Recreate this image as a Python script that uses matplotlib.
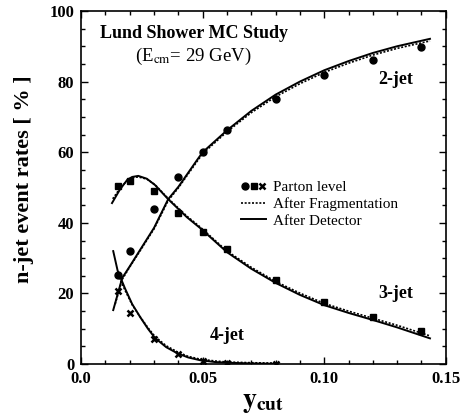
import matplotlib
matplotlib.use('Agg')
import matplotlib.pyplot as plt
from matplotlib.legend_handler import HandlerTuple
from matplotlib.ticker import MultipleLocator
import numpy as np

plt.rcParams['font.family'] = 'Liberation Serif'
plt.rcParams['mathtext.fontset'] = 'stix'

# parton level points
ycut_pts = [0.015, 0.02, 0.03, 0.04, 0.05, 0.06, 0.08, 0.10, 0.12, 0.14]
jet2_pts = [25.2, 32.0, 43.9, 53.0, 60.1, 66.3, 75.1, 81.9, 86.1, 89.8]
jet3_pts = [50.4, 51.8, 49.0, 42.8, 37.4, 32.6, 23.8, 17.6, 13.3, 9.3]
ycut4_pts = [0.015, 0.02, 0.03, 0.04, 0.05, 0.06, 0.08]
jet4_pts = [20.7, 14.4, 7.1, 2.8, 0.8, 0.3, 0.0]

# after detector (solid)
ycut_det2 = [0.0132, 0.0169, 0.02, 0.03, 0.0358, 0.04, 0.0477, 0.05, 0.06, 0.07, 0.08, 0.09, 0.10, 0.11, 0.12, 0.13, 0.1435]
jet2_det = [15.3, 24.4, 27.7, 38.6, 46.7, 50.2, 57.8, 60.0, 66.2, 71.7, 76.3, 80.0, 83.2, 85.8, 88.1, 90.0, 92.1]
ycut_det3 = [0.0127, 0.016, 0.019, 0.021, 0.0235, 0.027, 0.0304, 0.0358, 0.0435, 0.049, 0.06, 0.07, 0.08, 0.09, 0.10, 0.11, 0.12, 0.13, 0.1435]
jet3_det = [45.6, 49.5, 52.2, 53.0, 53.3, 52.5, 50.7, 46.7, 41.6, 38.5, 31.7, 27.0, 23.0, 19.6, 16.7, 14.5, 12.5, 10.4, 7.3]
ycut_det4 = [0.0132, 0.015, 0.018, 0.021, 0.0243, 0.0275, 0.0304, 0.035, 0.0395, 0.044, 0.049, 0.055, 0.06, 0.07, 0.08]
jet4_det = [32.0, 26.5, 21.5, 17.0, 13.3, 10.0, 7.4, 4.8, 3.1, 1.9, 1.1, 0.6, 0.4, 0.2, 0.1]

# after fragmentation (dotted)
ycut_frag2 = [0.014, 0.0169, 0.02, 0.03, 0.0358, 0.04, 0.0477, 0.05, 0.06, 0.07, 0.08, 0.09, 0.10, 0.11, 0.12, 0.13, 0.1435]
jet2_frag = [17.0, 24.0, 27.5, 38.3, 46.3, 49.9, 57.4, 59.6, 65.8, 71.2, 75.7, 79.4, 82.6, 85.2, 87.5, 89.4, 91.5]
ycut_frag3 = [0.013, 0.016, 0.019, 0.021, 0.0235, 0.027, 0.0304, 0.0358, 0.0435, 0.049, 0.06, 0.07, 0.08, 0.09, 0.10, 0.11, 0.12, 0.13, 0.1435]
jet3_frag = [46.8, 49.8, 52.0, 52.8, 53.0, 52.4, 50.8, 46.9, 41.9, 38.8, 32.0, 27.4, 23.4, 20.1, 17.2, 15.0, 13.0, 11.0, 8.0]
ycut_frag4 = [0.015, 0.018, 0.021, 0.0243, 0.0275, 0.0304, 0.035, 0.0395, 0.044, 0.049, 0.055, 0.06, 0.07, 0.08]
jet4_frag = [25.5, 21.0, 16.8, 13.4, 10.3, 7.8, 5.2, 3.5, 2.2, 1.4, 0.9, 0.6, 0.4, 0.3]

fig = plt.figure(figsize=(4.61, 4.2), dpi=100)
ax = fig.add_axes([0.176, 0.133, 0.791, 0.841])

ax.plot(ycut_det2, jet2_det, color='black', lw=1.4)
ax.plot(ycut_det3, jet3_det, color='black', lw=1.4)
ax.plot(ycut_det4, jet4_det, color='black', lw=1.4)
ax.plot(ycut_frag2, jet2_frag, color='black', lw=1.2, ls=(0, (1.2, 1.0)))
ax.plot(ycut_frag3, jet3_frag, color='black', lw=1.2, ls=(0, (1.2, 1.0)))
fr, = ax.plot(ycut_frag4, jet4_frag, color='black', lw=1.2, ls=(0, (1.2, 1.0)))
det, = ax.plot([], [], color='black', lw=1.4)

c, = ax.plot(ycut_pts, jet2_pts, 'o', color='black', ms=5, ls='none')
s, = ax.plot(ycut_pts, jet3_pts, 's', color='black', ms=5, ls='none')
x, = ax.plot(ycut4_pts, jet4_pts, 'x', color='black', ms=5, mew=1.8, ls='none')

ax.set_xlim(0, 0.15)
ax.set_ylim(0, 100)
ax.xaxis.set_major_locator(MultipleLocator(0.05))
ax.xaxis.set_minor_locator(MultipleLocator(0.01))
ax.yaxis.set_major_locator(MultipleLocator(20))
ax.yaxis.set_minor_locator(MultipleLocator(5))
ax.set_xticks([0, 0.05, 0.10, 0.15])
ax.set_xticklabels(['0.0', '0.05', '0.10', '0.15'])
ax.tick_params(which='both', direction='in', top=True, right=True, width=1.0)
ax.tick_params(which='major', length=5, labelsize=12, pad=5)
ax.tick_params(which='minor', length=3)
for lab in ax.get_xticklabels() + ax.get_yticklabels():
    lab.set_fontweight('bold')
for sp in ax.spines.values():
    sp.set_linewidth(1.2)

ax.set_ylabel('n-jet event rates [ % ]', fontsize=16, fontweight='bold')
ax.yaxis.set_label_coords(-0.13, 0.525)
ax.set_xlabel(r'$\mathbf{y}_{\mathbf{cut}}$', fontsize=20, labelpad=2)

ax.text(0.052, 0.935, 'Lund Shower MC Study', transform=ax.transAxes,
        fontsize=13, fontweight='bold', va='center')
ax.text(0.148, 0.872, r'(E$_{\rm cm}$= 29 GeV)', transform=ax.transAxes,
        fontsize=13.5, va='center')
ax.text(0.1295, 80.5, '2-jet', fontsize=13, fontweight='bold', ha='center', va='center')
ax.text(0.1295, 20.0, '3-jet', fontsize=13, fontweight='bold', ha='center', va='center')
ax.text(0.060, 8.0, '4-jet', fontsize=13, fontweight='bold', ha='center', va='center')

ax.legend([(c, s, x), fr, det], ['Parton level', 'After Fragmentation', 'After Detector'],
          handler_map={tuple: HandlerTuple(ndivide=None, pad=0.0)},
          loc='upper left', bbox_to_anchor=(0.41, 0.55), frameon=False,
          fontsize=11, handlelength=1.6, handletextpad=0.45, labelspacing=0.2,
          borderpad=0.2)

fig.savefig('out.png', dpi=100)
